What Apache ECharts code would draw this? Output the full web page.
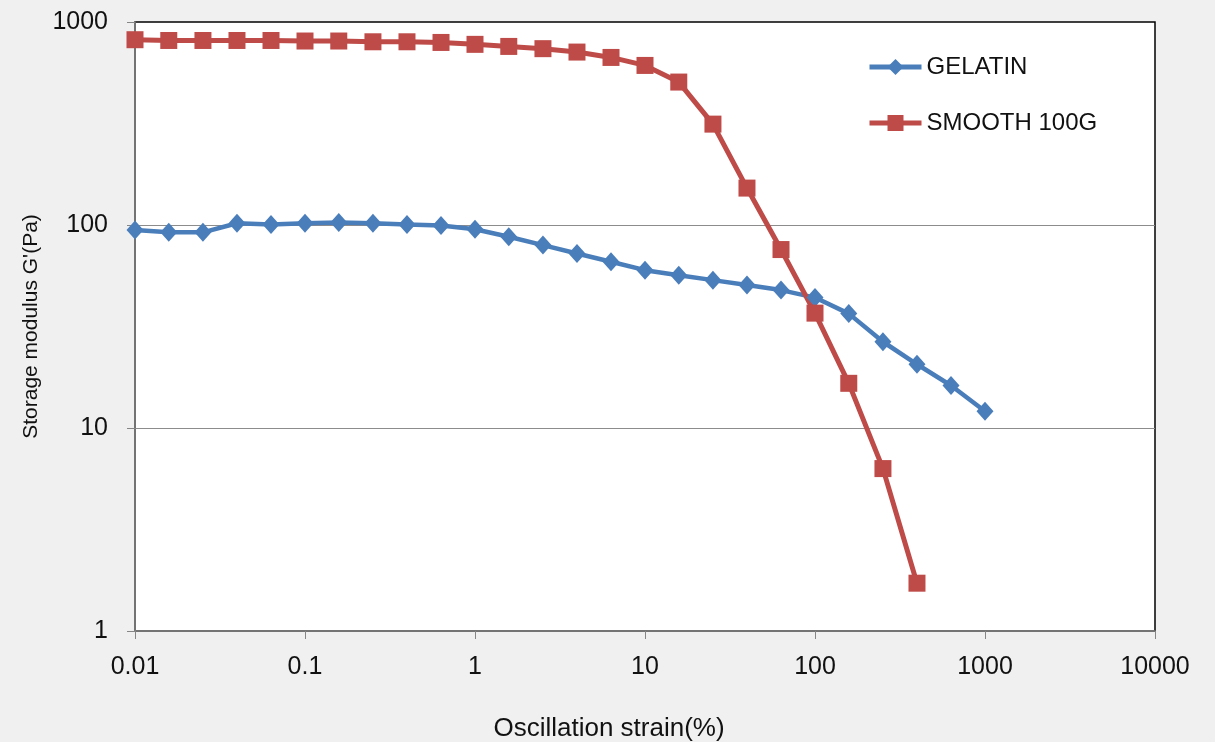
<!DOCTYPE html>
<html>
<head>
<meta charset="utf-8">
<script src="https://cdn.jsdelivr.net/npm/echarts@6/dist/echarts.min.js"></script>
<style>
  html, body { margin: 0; padding: 0; background: #f0f0f0; }
  #chart { width: 1215px; height: 742px; }
</style>
</head>
<body>
<div id="chart"></div>
<script>
// strain steps (%)
var strain = [0.01, 0.0158, 0.0251, 0.0398, 0.0631, 0.1, 0.158, 0.251, 0.398, 0.631,
              1, 1.58, 2.51, 3.98, 6.31, 10, 15.8, 25.1, 39.8, 63.1,
              100, 158, 251, 398, 631, 1000];

// storage modulus G' (Pa)
var gelatin = [94.5, 92, 92, 102, 100.6, 102, 103, 102, 100.6, 99.5,
               95.3, 87.5, 79.6, 72.4, 65.9, 59.9, 56.6, 53.5, 50.6, 47.8,
               43.9, 36.6, 26.6, 20.6, 16.2, 12.1];
var smooth100g = [818, 811, 811, 811, 811, 806, 806, 799, 799, 793,
                  776, 758, 739, 711, 669, 611, 506, 314, 152, 75.7,
                  36.8, 16.6, 6.31, 1.72];

var xTickLabels = ['0.01', '0.1', '1', '10', '100', '1000', '10000'];
var yTickLabels = ['1', '10', '100', '1000'];

function pairs(xs, ys) {
    var out = [];
    for (var i = 0; i < ys.length; i++) out.push([xs[i], ys[i]]);
    return out;
}

var myChart = echarts.init(document.getElementById('chart'));

var font = 'Liberation Sans, Arial, sans-serif';

var option = {
    backgroundColor: '#f0f0f0',
    animation: false,
    grid: {
        left: 135, top: 22, width: 1020, height: 609,
        outerBoundsMode: 'none',
        show: true,
        backgroundColor: '#ffffff',
        borderColor: '#000000',
        borderWidth: 1.5
    },
    legend: {
        orient: 'vertical',
        left: 867,
        top: 55,
        padding: 0,
        itemWidth: 52,
        itemHeight: 20,
        itemGap: 32,
        lineStyle: { width: 5 },
        textStyle: { fontFamily: font, fontSize: 24, color: '#111' },
        data: ['GELATIN', 'SMOOTH 100G']
    },
    xAxis: {
        type: 'log',
        logBase: 10,
        min: 0.01,
        max: 10000,
        splitNumber: 6,
        name: 'Oscillation strain(%)',
        nameLocation: 'middle',
        nameGap: 85,
        nameTextStyle: { fontFamily: font, fontSize: 26, color: '#111', padding: [0, 72, 0, 0] },
        axisLine: { show: true, lineStyle: { color: '#868686', width: 1.5 } },
        axisTick: { show: true, length: 8, lineStyle: { color: '#868686' } },
        axisLabel: {
            margin: 24,
            fontFamily: font, fontSize: 25, color: '#111',
            formatter: function (v, i) { return xTickLabels[i] !== undefined ? xTickLabels[i] : String(v); }
        },
        splitLine: { show: false },
        minorTick: { show: false }
    },
    yAxis: {
        type: 'log',
        logBase: 10,
        min: 1,
        max: 1000,
        splitNumber: 3,
        name: "Storage modulus G'(Pa)",
        nameLocation: 'middle',
        nameGap: 93,
        nameTextStyle: { fontFamily: font, fontSize: 21, color: '#111' },
        axisLine: { show: true, lineStyle: { color: '#868686', width: 1.5 } },
        axisTick: { show: true, length: 8, lineStyle: { color: '#868686' } },
        axisLabel: {
            margin: 27,
            fontFamily: font, fontSize: 25, color: '#111',
            formatter: function (v, i) { return yTickLabels[i] !== undefined ? yTickLabels[i] : String(v); }
        },
        splitLine: {
            show: true,
            showMinLine: false,
            showMaxLine: false,
            lineStyle: { color: '#8c8c8c', width: 1.2 }
        }
    },
    series: [{
        name: 'GELATIN',
        type: 'line',
        data: pairs(strain, gelatin),
        symbol: 'diamond',
        symbolSize: [17, 19],
        color: '#4a7ebb',
        lineStyle: { width: 4.5, color: '#4a7ebb' },
        itemStyle: { color: '#4a7ebb' }
    }, {
        name: 'SMOOTH 100G',
        type: 'line',
        data: pairs(strain, smooth100g),
        symbol: 'rect',
        symbolSize: 17,
        color: '#be4b48',
        lineStyle: { width: 5, color: '#be4b48' },
        itemStyle: { color: '#be4b48' }
    }]
};

myChart.setOption(option);
</script>
</body>
</html>
